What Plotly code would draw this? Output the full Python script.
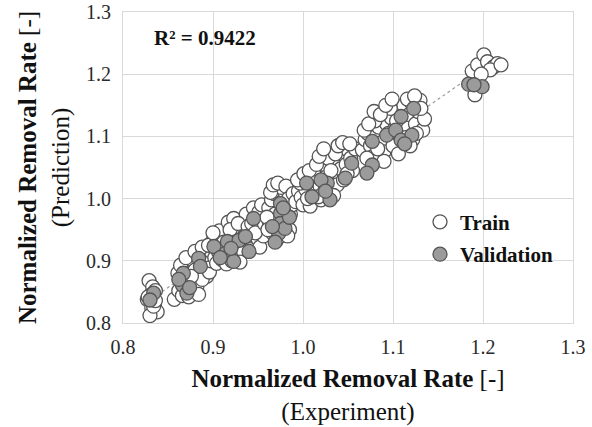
import numpy as np
import plotly.graph_objects as go

# ---- data ----
train_x = [
    0.829, 0.833, 0.836, 0.831, 0.827, 0.835, 0.832, 0.838, 0.830, 0.834, 0.828, 0.836,
    0.857, 0.862, 0.866, 0.868, 0.872, 0.878, 0.861, 0.864, 0.870, 0.875, 0.882, 0.880,
    0.886, 0.890, 0.893, 0.888, 0.876, 0.866, 0.873, 0.884, 0.896, 0.898, 0.892, 0.870,
    0.898, 0.902, 0.905, 0.908, 0.911, 0.913, 0.916, 0.918, 0.920, 0.922, 0.925, 0.927,
    0.929, 0.931, 0.933, 0.936, 0.938, 0.940, 0.942, 0.944, 0.946, 0.948, 0.950, 0.952,
    0.955, 0.958, 0.904, 0.910, 0.915, 0.926, 0.934, 0.907, 0.917, 0.923, 0.937, 0.945,
    0.952, 0.900, 0.930, 0.956,
    0.880, 0.888, 0.895, 0.900, 0.906, 0.912, 0.919, 0.924, 0.928, 0.935, 0.939, 0.943,
    0.947, 0.951, 0.954, 0.957, 0.921, 0.913,
    0.962, 0.965, 0.968, 0.971, 0.974, 0.977, 0.980, 0.983, 0.986, 0.963, 0.966, 0.970,
    0.975, 0.978, 0.982, 0.988, 0.990, 0.985, 0.969, 0.973, 0.979, 0.960, 0.987, 0.976,
    0.964, 0.967, 0.972, 0.981, 0.984, 0.989, 0.961, 0.983,
    0.992, 0.995, 0.998, 1.000, 1.003, 1.006, 1.008, 1.010, 1.013, 1.016, 1.019, 1.022,
    1.024, 1.027, 1.030, 1.032, 1.035, 1.038, 1.040, 1.042, 1.045, 1.048, 1.050, 1.053,
    1.055, 1.034, 1.020, 1.045, 1.028, 1.012, 0.997, 1.058, 1.036,
    0.994, 1.001, 1.007, 1.015, 1.018, 1.023, 1.026, 1.031, 1.039, 1.044, 1.049, 1.052,
    1.005, 1.017,
    1.066, 1.069, 1.072, 1.075, 1.078, 1.081, 1.084, 1.087, 1.090, 1.093, 1.095, 1.098,
    1.100, 1.102, 1.105, 1.108, 1.110, 1.112, 1.115, 1.118, 1.120, 1.122, 1.125, 1.128,
    1.130, 1.133, 1.135, 1.106, 1.090, 1.080, 1.097, 1.126,
    1.068, 1.073, 1.079, 1.086, 1.092, 1.099, 1.104, 1.116, 1.124, 1.131, 1.114, 1.119,
    1.083, 1.071,
    1.188, 1.194, 1.201, 1.205, 1.212, 1.216, 1.208, 1.198, 1.191, 1.220,
]
train_y = [
    0.868, 0.858, 0.852, 0.845, 0.838, 0.830, 0.824, 0.818, 0.812, 0.827, 0.842, 0.836,
    0.838, 0.852, 0.870, 0.888, 0.896, 0.900, 0.880, 0.893, 0.862, 0.850, 0.858, 0.885,
    0.905, 0.892, 0.875, 0.870, 0.875, 0.844, 0.842, 0.846, 0.882, 0.900, 0.910, 0.905,
    0.915, 0.905, 0.928, 0.935, 0.920, 0.942, 0.948, 0.925, 0.910, 0.940, 0.955, 0.945,
    0.918, 0.960, 0.930, 0.952, 0.965, 0.925, 0.940, 0.972, 0.958, 0.980, 0.935, 0.965,
    0.950, 0.975, 0.896, 0.902, 0.895, 0.905, 0.915, 0.948, 0.962, 0.968, 0.975, 0.985,
    0.922, 0.932, 0.898, 0.940,
    0.915, 0.922, 0.925, 0.945, 0.915, 0.930, 0.950, 0.930, 0.960, 0.940, 0.955, 0.960,
    0.945, 0.978, 0.990, 0.960, 0.900, 0.910,
    0.985, 0.998, 1.008, 1.014, 1.005, 0.995, 1.010, 0.985, 0.975, 0.960, 0.945, 0.932,
    0.940, 0.955, 0.965, 0.990, 1.000, 0.950, 0.975, 0.965, 0.978, 0.970, 1.015, 1.018,
    1.010, 1.022, 1.025, 1.020, 1.000, 1.008, 0.950, 0.940,
    0.995, 1.012, 1.002, 0.990, 1.015, 1.030, 0.988, 1.022, 1.008, 1.035, 1.020, 1.042,
    1.012, 1.050, 1.030, 1.058, 1.040, 1.022, 1.062, 1.048, 1.070, 1.055, 1.078, 1.065,
    1.045, 1.005, 0.998, 1.030, 1.065, 1.040, 1.025, 1.080, 1.072,
    1.030, 1.040, 1.045, 1.055, 1.068, 1.080, 1.035, 1.045, 1.085, 1.090, 1.040, 1.088,
    1.000, 1.003,
    1.078, 1.095, 1.105, 1.085, 1.068, 1.100, 1.115, 1.090, 1.075, 1.120, 1.105, 1.130,
    1.085, 1.112, 1.140, 1.100, 1.125, 1.150, 1.115, 1.135, 1.155, 1.095, 1.120, 1.140,
    1.158, 1.110, 1.128, 1.072, 1.060, 1.125, 1.145, 1.105,
    1.110, 1.120, 1.140, 1.135, 1.150, 1.160, 1.125, 1.160, 1.165, 1.145, 1.098, 1.085,
    1.080, 1.065,
    1.205, 1.215, 1.231, 1.220, 1.212, 1.217, 1.207, 1.200, 1.167, 1.215,
]
val_x = [
    0.834, 0.830,
    0.867, 0.866, 0.871, 0.884, 0.886, 0.862, 0.874,
    0.901, 0.916, 0.914, 0.923, 0.929, 0.936, 0.940, 0.945, 0.920, 0.908,
    0.975, 0.975, 0.975, 0.973, 0.969, 0.980, 0.985, 0.966, 0.978,
    1.004, 1.010, 1.027, 1.030, 1.047, 1.054, 1.020, 1.025,
    1.077, 1.071,
    1.077, 1.093, 1.103, 1.109, 1.109, 1.121, 1.123, 1.113,
    1.184, 1.199, 1.190,
]
val_y = [
    0.848, 0.837,
    0.880, 0.861, 0.848, 0.904, 0.891, 0.870, 0.857,
    0.923, 0.931, 0.912, 0.899, 0.933, 0.939, 0.915, 0.968, 0.920, 0.905,
    0.992, 0.976, 0.960, 0.944, 0.930, 0.952, 0.970, 0.955, 0.985,
    1.025, 1.003, 1.025, 0.998, 1.033, 1.057, 1.030, 1.012,
    1.054, 1.041,
    1.092, 1.102, 1.110, 1.132, 1.094, 1.102, 1.145, 1.088,
    1.184, 1.180, 1.183,
]
tick_vals = [0.8, 0.9, 1.0, 1.1, 1.2, 1.3]
tick_text = ["0.8", "0.9", "1.0", "1.1", "1.2", "1.3"]
r2_text = "R² = 0.9422"

# ---- trend line fitted to all points ----
all_x = np.array(train_x + val_x)
all_y = np.array(train_y + val_y)
slope, intercept = np.polyfit(all_x, all_y, 1)
line_x = np.array([all_x.min(), all_x.max()])
line_y = slope * line_x + intercept

FONT = "Liberation Serif"

fig = go.Figure()
fig.add_trace(go.Scatter(
    x=line_x, y=line_y, mode="lines", showlegend=False, hoverinfo="skip",
    line=dict(color="#9a9a9a", width=1.2, dash="dot"),
))
fig.add_trace(go.Scatter(
    x=train_x, y=train_y, mode="markers", name="<b>Train</b>", legendgroup="t",
    marker=dict(size=14, color="white", line=dict(color="#555555", width=1.3)),
))
fig.add_trace(go.Scatter(
    x=val_x, y=val_y, mode="markers", name="<b>Validation</b>", legendgroup="v",
    marker=dict(size=14, color="#9b9b9b", line=dict(color="#555555", width=1.3)),
))

axis_common = dict(
    range=[0.8, 1.3], tickvals=tick_vals, ticktext=tick_text,
    showgrid=True, gridcolor="#d9d9d9", gridwidth=1,
    showline=True, linecolor="#d9d9d9", linewidth=1, mirror=True,
    zeroline=False, ticks="", automargin=False,
    tickfont=dict(family=FONT, size=20, color="#2a2a2a"),
)

fig.update_layout(
    width=592, height=427,
    margin=dict(l=123, r=19, t=12, b=104),
    paper_bgcolor="white", plot_bgcolor="white",
    font=dict(family=FONT, color="#111111"),
    xaxis=dict(**axis_common, ticklabelstandoff=6,
               title=dict(text="<b>Normalized Removal Rate</b> [-]<br>(Experiment)",
                          font=dict(family=FONT, size=25, color="#111111"), standoff=12)),
    yaxis=dict(**axis_common, ticklabelstandoff=7,
               title=dict(text="<b>Normalized Removal Rate</b> [-]<br>(Prediction)",
                          font=dict(family=FONT, size=25, color="#111111"), standoff=9)),
    legend=dict(x=0.66, y=0.39, xanchor="left", yanchor="top",
                bgcolor="rgba(0,0,0,0)", itemsizing="trace", itemwidth=30,
                font=dict(family=FONT, size=21, color="#111111"),
                tracegroupgap=2),
    annotations=[dict(text="<b>" + r2_text + "</b>", x=0.064, y=0.915,
                      xref="paper", yref="paper", xanchor="left", yanchor="middle",
                      showarrow=False, font=dict(family=FONT, size=21, color="#111111"))],
)

fig.write_html("out.html", config={"displayModeBar": False},
               post_script="document.body.style.margin='0';")
